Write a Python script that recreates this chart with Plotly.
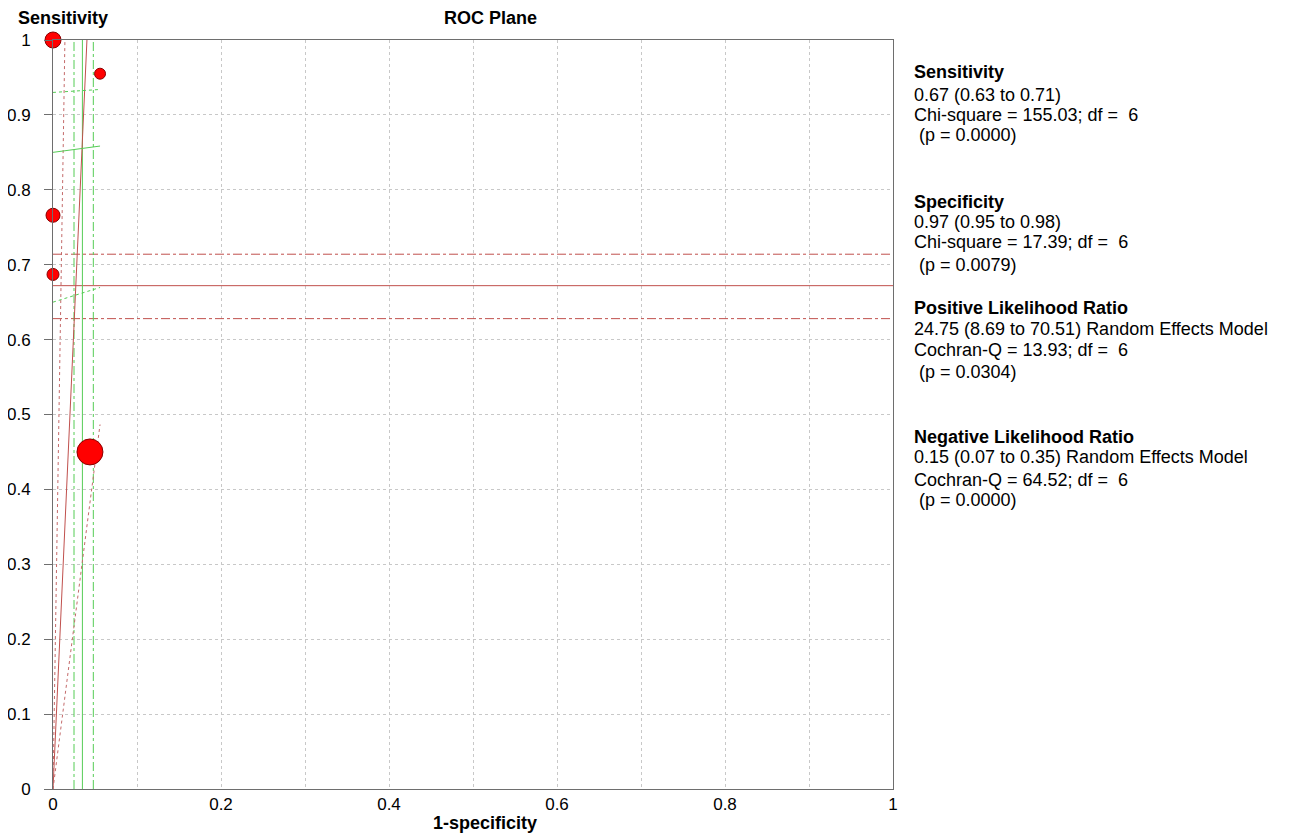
import plotly.graph_objects as go

# ---- study data (1-specificity, sensitivity, relative weight) ----
study_fpr = [0.0, 0.056, 0.0, 0.0, 0.044]
study_sens = [1.0, 0.955, 0.766, 0.687, 0.45]
study_size = [16, 11, 14, 12, 26]

# ---- pooled estimates ----
pooled_sens = 0.672
pooled_sens_ci = [0.628, 0.714]
pooled_fpr = 0.035
pooled_fpr_ci = [0.025, 0.048]
plr = 24.75
plr_ci = [8.69, 70.51]
nlr = 0.15
nlr_ci = [0.07, 0.35]
x_limit = 0.056  # max observed 1-specificity, lines clipped there

tick_vals_y = [0, 0.1, 0.2, 0.3, 0.4, 0.5, 0.6, 0.7, 0.8, 0.9, 1]
tick_text_y = ["0", "0.1", "0.2", "0.3", "0.4", "0.5", "0.6", "0.7", "0.8", "0.9", "1"]
tick_vals_x = [0, 0.2, 0.4, 0.6, 0.8, 1]
tick_text_x = ["0", "0.2", "0.4", "0.6", "0.8", "1"]

stats_blocks = [
    ["Sensitivity", "0.67 (0.63 to 0.71)", "Chi-square = 155.03; df =\u00a0 6", "\u00a0(p = 0.0000)"],
    ["Specificity", "0.97 (0.95 to 0.98)", "Chi-square = 17.39; df =\u00a0 6", "\u00a0(p = 0.0079)"],
    ["Positive Likelihood Ratio", "24.75 (8.69 to 70.51) Random Effects Model",
     "Cochran-Q = 13.93; df =\u00a0 6", "\u00a0(p = 0.0304)"],
    ["Negative Likelihood Ratio", "0.15 (0.07 to 0.35) Random Effects Model",
     "Cochran-Q = 64.52; df =\u00a0 6", "\u00a0(p = 0.0000)"],
]
stats_ypix = [[72, 95, 115, 135], [202, 222, 242, 265], [308, 329, 350, 372], [437, 457, 480, 500]]

FONT = "Arial, 'Liberation Sans', sans-serif"
RED = "#c0504d"
RED_DOT = "#c46a6a"
GREEN = "#55cc55"

# page offset (body margin of the html page)
OFF = 8
# plot area in page pixels
L, R, T, B = 53, 893, 40, 789
W, H = 1290 - OFF, 836 - OFF

fig = go.Figure()

# pooled sensitivity lines (horizontal)
fig.add_trace(go.Scatter(x=[0, 1], y=[pooled_sens, pooled_sens], mode="lines",
                         line=dict(color=RED, width=1), hoverinfo="skip", showlegend=False))
for v in pooled_sens_ci:
    fig.add_trace(go.Scatter(x=[0, 1], y=[v, v], mode="lines",
                             line=dict(color=RED, width=1, dash="dashdot"), hoverinfo="skip", showlegend=False))

# pooled 1-specificity lines (vertical)
fig.add_trace(go.Scatter(x=[pooled_fpr, pooled_fpr], y=[0, 1], mode="lines",
                         line=dict(color=GREEN, width=1), hoverinfo="skip", showlegend=False))
for v in pooled_fpr_ci:
    fig.add_trace(go.Scatter(x=[v, v], y=[0, 1], mode="lines",
                             line=dict(color=GREEN, width=1, dash="dashdot"), hoverinfo="skip", showlegend=False))

# positive likelihood ratio lines: sens = PLR * fpr
def plr_line(p):
    xe = min(1.0 / p, x_limit)
    return [0, xe], [0, p * xe]

xs, ys = plr_line(plr)
fig.add_trace(go.Scatter(x=xs, y=ys, mode="lines", line=dict(color=RED, width=1),
                         hoverinfo="skip", showlegend=False))
for p in plr_ci:
    xs, ys = plr_line(p)
    fig.add_trace(go.Scatter(x=xs, y=ys, mode="lines", line=dict(color=RED_DOT, width=1, dash="dot"),
                             hoverinfo="skip", showlegend=False))

# negative likelihood ratio lines: sens = 1 - NLR * (1 - fpr)
def nlr_line(n):
    return [0, x_limit], [1 - n, 1 - n * (1 - x_limit)]

xs, ys = nlr_line(nlr)
fig.add_trace(go.Scatter(x=xs, y=ys, mode="lines", line=dict(color=GREEN, width=1),
                         hoverinfo="skip", showlegend=False))
for n in nlr_ci:
    xs, ys = nlr_line(n)
    fig.add_trace(go.Scatter(x=xs, y=ys, mode="lines", line=dict(color=GREEN, width=1, dash="dot"),
                             hoverinfo="skip", showlegend=False))

# study points
fig.add_trace(go.Scatter(x=study_fpr, y=study_sens, mode="markers", cliponaxis=False,
                         marker=dict(size=study_size, color="#ff0000", opacity=1,
                                     line=dict(color="#8a0000", width=1)),
                         showlegend=False))

def px_x(p):
    return (p - L) / (R - L)

def px_y(p):
    return (B - p) / (B - T)

annotations = []
for block, ypix in zip(stats_blocks, stats_ypix):
    for i, (txt, yp) in enumerate(zip(block, ypix)):
        annotations.append(dict(
            text=("<b>%s</b>" % txt) if i == 0 else txt,
            xref="paper", yref="paper", x=px_x(912), y=px_y(yp),
            xanchor="left", yanchor="middle", showarrow=False,
            font=dict(family=FONT, size=18, color="#000000")))

annotations.append(dict(text="<b>Sensitivity</b>", xref="paper", yref="paper",
                        x=px_x(63), y=px_y(18), xanchor="center", yanchor="middle",
                        showarrow=False, font=dict(family=FONT, size=18, color="#000")))
annotations.append(dict(text="<b>ROC Plane</b>", xref="paper", yref="paper",
                        x=px_x(490), y=px_y(18), xanchor="center", yanchor="middle",
                        showarrow=False, font=dict(family=FONT, size=18, color="#000")))
annotations.append(dict(text="<b>1-specificity</b>", xref="paper", yref="paper",
                        x=px_x(485), y=px_y(823), xanchor="center", yanchor="middle",
                        showarrow=False, font=dict(family=FONT, size=18, color="#000")))

grid = dict(gridcolor="#c8c8c8", griddash="dot", gridwidth=1)

fig.update_layout(
    width=W, height=H,
    margin=dict(l=L - OFF, r=W - (R - OFF), t=T - OFF, b=H - (B - OFF), pad=0),
    paper_bgcolor="white", plot_bgcolor="white",
    font=dict(family=FONT, size=17, color="#000"),
    annotations=annotations,
    xaxis=dict(range=[0, 1], tickvals=tick_vals_x, ticktext=tick_text_x,
               showgrid=True, **grid,
               minor=dict(dtick=0.1, tick0=0, showgrid=True, **grid),
               showline=True, linecolor="#6e6e6e", linewidth=1, mirror=True,
               ticks="", zeroline=False, tickfont=dict(size=17), automargin=False),
    yaxis=dict(range=[0, 1], tickvals=tick_vals_y, ticktext=tick_text_y,
               showgrid=True, **grid,
               showline=True, linecolor="#6e6e6e", linewidth=1, mirror=True,
               ticks="outside", ticklen=8, tickcolor="#6e6e6e", zeroline=False,
               tickfont=dict(size=17), ticklabelstandoff=10, automargin=False),
)

fig.write_html("out.html")
